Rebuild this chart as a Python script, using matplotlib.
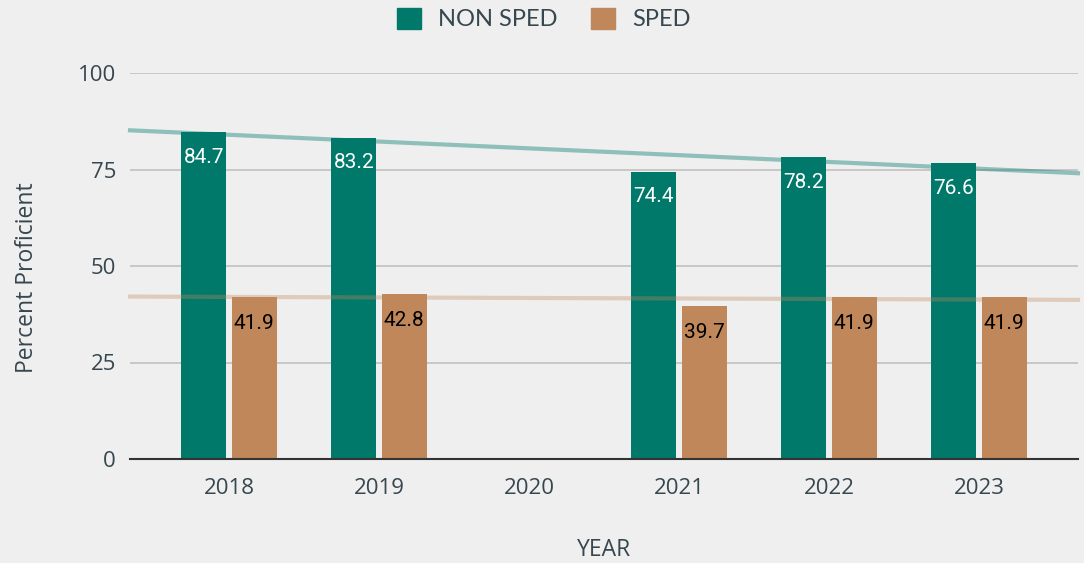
import numpy as np
import matplotlib
matplotlib.use("Agg")
import matplotlib.pyplot as plt
from matplotlib.patches import Patch

years = ["2018", "2019", "2020", "2021", "2022", "2023"]
non_sped = [84.7, 83.2, np.nan, 74.4, 78.2, 76.6]
sped = [41.9, 42.8, np.nan, 39.7, 41.9, 41.9]

TEAL = "#00796B"
TAN = "#C0885A"
BG = "#EFEFEF"
TXT = "#37474F"

fig = plt.figure(figsize=(10.84, 5.63), dpi=100, facecolor=BG)
ax = fig.add_axes([130/1084, 1-459/563, (1078-130)/1084, (459-73)/563])
ax.set_facecolor(BG)

x = np.arange(len(years))
w = 0.30
off = 0.167
ns = np.array(non_sped, dtype=float)
sp = np.array(sped, dtype=float)
mn = ~np.isnan(ns)
ms = ~np.isnan(sp)

ax.bar(x[mn] - off, ns[mn], w, color=TEAL, zorder=3)
ax.bar(x[ms] + off, sp[ms], w, color=TAN, zorder=3)

for xi, v in zip(x[mn] - off, ns[mn]):
    ax.annotate(f"{v:.1f}", (xi, v), xytext=(0, -18), textcoords="offset points",
                ha="center", va="center", color="white", fontsize=15,
                family="Roboto", zorder=5)
for xi, v in zip(x[ms] + off, sp[ms]):
    ax.annotate(f"{v:.1f}", (xi, v), xytext=(0, -19), textcoords="offset points",
                ha="center", va="center", color="black", fontsize=15,
                family="Roboto", zorder=5)

xlim = (-0.66, 5.66)
ax.set_xlim(*xlim)
ax.set_ylim(0, 100)
xs = np.array(xlim)
c1 = np.polyfit(x[mn], ns[mn], 1)
c2 = np.polyfit(x[ms], sp[ms], 1)
ax.plot(xs, np.polyval(c1, xs), color=TEAL, alpha=0.4, lw=3, zorder=4, clip_on=False)
ax.plot(xs, np.polyval(c2, xs), color=TAN, alpha=0.35, lw=3, zorder=4, clip_on=False)

ax.set_yticks([0, 25, 50, 75, 100])
ax.yaxis.grid(True, color="#C4C4C4", lw=1.3, zorder=0)
ax.set_axisbelow(True)
for s in ["top", "right", "left"]:
    ax.spines[s].set_visible(False)
ax.spines["bottom"].set_color("#333333")
ax.spines["bottom"].set_linewidth(1.5)
ax.spines["bottom"].set_zorder(6)
ax.set_xticks(x)
ax.set_xticklabels(years)
ax.tick_params(axis="both", length=0, labelsize=16, labelcolor=TXT)
ax.tick_params(axis="x", pad=14)
ax.tick_params(axis="y", pad=10)
for lab in ax.get_xticklabels() + ax.get_yticklabels():
    lab.set_family("Open Sans")

fig.text(604/1084, 1-550/563, "YEAR", ha="center", va="center", fontsize=16.5,
         color=TXT, family="Open Sans")
fig.text(27/1084, 1-278/563, "Percent Proficient", ha="center", va="center",
         rotation=90, fontsize=16.5, color=TXT, family="Open Sans")

handles = [Patch(color=TEAL, label="NON SPED"), Patch(color=TAN, label="SPED")]
fig.legend(handles=handles, loc="center", bbox_to_anchor=(544/1084, 1-19/563),
           ncol=2, frameon=False, handlelength=1.0, handleheight=1.0,
           columnspacing=1.4, handletextpad=0.75, labelcolor=TXT,
           prop={"family": "Lato", "size": 17})

fig.savefig("out.png", dpi=100, facecolor=BG)
